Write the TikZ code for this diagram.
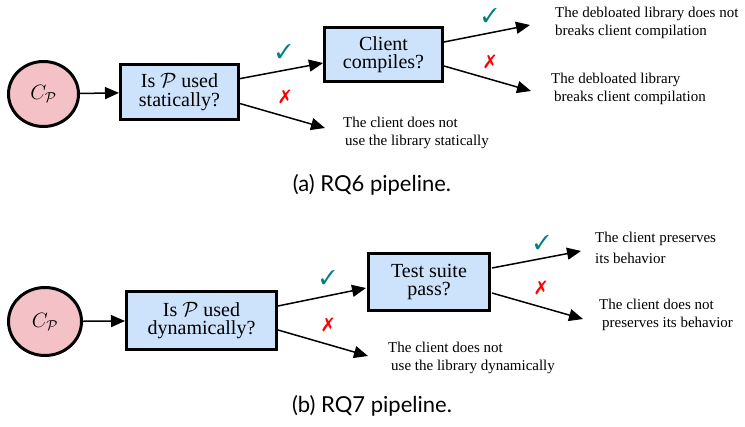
\documentclass[tikz,border=0pt]{standalone}
\usepackage{fontspec}
\setmainfont{Liberation Serif}
\newfontfamily\capfont{Lato}
\usepackage{pifont}
\usetikzlibrary{arrows.meta,shapes.geometric}
\definecolor{cpink}{RGB}{243,193,198}
\definecolor{cblue}{RGB}{205,226,251}
\definecolor{cteal}{RGB}{0,128,128}
\definecolor{cred}{RGB}{255,0,0}
\tikzset{
  x=1pt,y=-1pt,
  startnode/.style={ellipse,draw,line width=3pt,fill=cpink,inner sep=0pt,font=\fontsize{20}{20}\selectfont},
  decbox/.style={rectangle,draw,line width=3pt,fill=cblue,inner sep=0pt,align=center,font=\fontsize{20}{18.5}\selectfont},
  flow/.style={line width=1.5pt,-{Triangle[length=14pt,width=12pt]}},
  note/.style={anchor=north west,inner sep=0pt,align=left,font=\fontsize{15}{18}\selectfont},
  yesmark/.style={text=cteal,font=\fontsize{20}{20}\selectfont,inner sep=0pt},
  nomark/.style={text=cred,font=\fontsize{19}{19}\selectfont,inner sep=0pt},
  captext/.style={anchor=base,inner sep=0pt,font=\capfont\fontsize{22}{22}\selectfont}
}
\begin{document}
\begin{tikzpicture}
\useasboundingbox (0,0) rectangle (745,427);
% ---------- (a) ----------
\node[startnode,minimum width=70pt,minimum height=65pt] (ca) at (43.5,94) {$C_{\mathcal{P}}$};
\node[decbox,minimum width=118pt,minimum height=55pt] (sa) at (179.5,92) {Is $\mathcal{P}$ used\\statically?};
\node[decbox,minimum width=118pt,minimum height=54pt] (ka) at (383.5,54.5) {Client\\compiles?};
\node[note] (na1) at (343,117) {The client does not\\\hspace{2pt}use the library statically};
\node[note] (na2) at (555,7) {The debloated library does not\\breaks client compilation};
\node[note] (na3) at (551,73) {The debloated library\\\hspace{3pt}breaks client compilation};
\coordinate (sa1) at (238,79);
\coordinate (sa2) at (238,103);
\coordinate (ta1) at (323,63);
\coordinate (ta2) at (325,128);
\coordinate (ka1) at (444,42);
\coordinate (ka2) at (444,66);
\coordinate (tb1) at (530,25);
\coordinate (tb2) at (531,91);
\draw[flow] (ca) -- (sa);
\draw[flow] (sa1) -- (ta1);
\draw[flow] (sa2) -- (ta2);
\draw[flow] (ka1) -- (tb1);
\draw[flow] (ka2) -- (tb2);
\node[yesmark] (ya1) at (284,52) {\ding{51}};
\node[nomark] (xa1) at (285,97) {\ding{55}};
\node[yesmark] (ya2) at (490,16) {\ding{51}};
\node[nomark] (xa2) at (490,62) {\ding{55}};
\node[captext] (capa) at (372,192) {(a) RQ6 pipeline.};
% ---------- (b) ----------
\node[startnode,minimum width=73pt,minimum height=68pt] (cb) at (45,321.5) {$C_{\mathcal{P}}$};
\node[decbox,minimum width=150pt,minimum height=58pt] (sb) at (201.5,320.5) {Is $\mathcal{P}$ used\\dynamically?};
\node[decbox,minimum width=121pt,minimum height=57pt] (kb) at (429,282) {Test suite\\pass?};
\node[note] (nb1) at (388,342) {The client does not\\\hspace{3pt}use the library dynamically};
\node[note] (nb2) at (595,232) {The client preserves\\[3pt]its behavior};
\node[note] (nb3) at (599,299) {The client does not\\\hspace{3pt}preserves its behavior};
\coordinate (sb1) at (278,306);
\coordinate (sb2) at (278,330);
\coordinate (tc1) at (366,288);
\coordinate (tc2) at (368,356);
\coordinate (kb1) at (492,268);
\coordinate (kb2) at (492,293);
\coordinate (td1) at (581,251);
\coordinate (td2) at (583,319);
\draw[flow] (cb) -- (sb);
\draw[flow] (sb1) -- (tc1);
\draw[flow] (sb2) -- (tc2);
\draw[flow] (kb1) -- (td1);
\draw[flow] (kb2) -- (td2);
\node[yesmark] (yb1) at (328,278) {\ding{51}};
\node[nomark] (xb1) at (328,325) {\ding{55}};
\node[yesmark] (yb2) at (542,243) {\ding{51}};
\node[nomark] (xb2) at (541,288) {\ding{55}};
\node[captext] (capb) at (372,413) {(b) RQ7 pipeline.};
\end{tikzpicture}
\end{document}
